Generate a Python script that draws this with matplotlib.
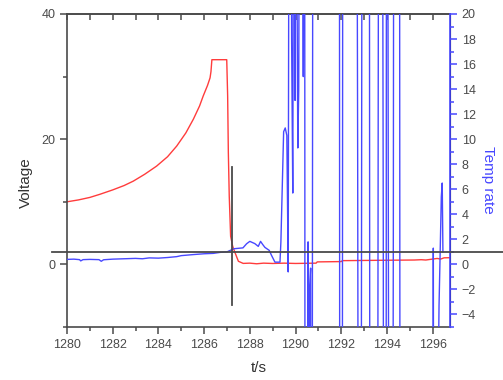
import numpy as np
import matplotlib
matplotlib.use('Agg')
import matplotlib.pyplot as plt
from matplotlib.ticker import MultipleLocator

plt.rcParams['font.family'] = ['Liberation Sans', 'DejaVu Sans']

# Voltage (left axis)
red_t = [1280.0, 1280.5, 1281.0, 1281.44, 1282.0, 1282.5, 1282.9, 1283.4, 1283.92,
         1284.4, 1284.8, 1285.2, 1285.53, 1285.8, 1285.96, 1286.15, 1286.26, 1286.3,
         1286.34, 1286.99, 1287.03, 1287.06, 1287.1, 1287.16, 1287.25, 1287.35, 1287.5,
         1287.71, 1288.0, 1288.3, 1288.6, 1289.0, 1289.5, 1290.0, 1290.9, 1290.95,
         1292.0, 1292.05, 1293.5, 1295.2, 1295.5, 1295.7, 1296.0, 1296.2, 1296.35,
         1296.5, 1296.8]
red_v = [10.0, 10.3, 10.7, 11.2, 11.9, 12.6, 13.3, 14.4, 15.7,
         17.2, 18.9, 21.0, 23.2, 25.3, 26.9, 28.6, 29.8, 30.8,
         32.7, 32.7, 26.9, 17.9, 10.9, 4.5, 2.9, 1.9, 0.5,
         0.16, 0.2, 0.1, 0.2, 0.15, 0.2, 0.15, 0.2, 0.4,
         0.45, 0.6, 0.65, 0.7, 0.75, 0.7, 0.85, 0.95, 0.85,
         1.05, 1.07]

# Temp rate (right axis); values beyond the axis range are clipped
blue_t = [1280.0, 1280.3, 1280.55, 1280.6, 1280.7, 1281.0, 1281.4, 1281.5, 1281.6,
          1282.0, 1282.5, 1283.0, 1283.3, 1283.6, 1284.0, 1284.4, 1284.8, 1285.0,
          1285.5, 1286.0, 1286.4, 1286.7, 1287.0, 1287.3, 1287.7, 1287.86, 1288.0,
          1288.22, 1288.37, 1288.47, 1288.56, 1288.66, 1288.85, 1288.95, 1289.1, 1289.32,
          1289.36, 1289.42, 1289.48, 1289.55, 1289.62, 1289.66, 1289.68, 1289.72, 1289.80,
          1289.83, 1289.86, 1289.88, 1289.92, 1289.98, 1290.02, 1290.10, 1290.14, 1290.18,
          1290.30, 1290.34, 1290.37, 1290.40, 1290.42, 1290.52, 1290.55, 1290.58, 1290.62,
          1290.66, 1290.68, 1290.72, 1290.76, 1291.92, 1291.94, 1292.04, 1292.07, 1292.68,
          1292.72, 1292.76, 1292.86, 1292.90, 1292.92, 1293.23, 1293.26, 1293.58, 1293.62,
          1293.64, 1293.80, 1293.84, 1293.86, 1293.96, 1293.98, 1294.03, 1294.06, 1294.10,
          1294.24, 1294.28, 1294.30, 1294.55, 1294.58, 1296.0, 1296.03, 1296.06, 1296.28,
          1296.33, 1296.38, 1296.42, 1296.45]
blue_v = [0.40, 0.42, 0.38, 0.28, 0.38, 0.40, 0.38, 0.25, 0.37,
          0.42, 0.45, 0.48, 0.45, 0.52, 0.50, 0.55, 0.62, 0.70,
          0.78, 0.85, 0.88, 0.96, 1.0, 1.25, 1.32, 1.65, 1.84,
          1.66, 1.44, 1.84, 1.6, 1.36, 1.12, 0.72, 0.18, 0.18,
          1.8, 6.2, 10.6, 10.9, 10.3, 3.0, -0.6, 40, 40,
          17.9, 10.5, 5.7, 40, 13.1, 40, 9.3, 13.9, 40,
          40, 15.0, 40, 40, -40, -40, 1.8, -40, -1.8,
          -0.3, -40, -40, 40, 40, -40, -40, 40, 40,
          8.2, -40, -40, 18.8, 40, 40, -40, -40, 14.9,
          40, 40, 3.0, -40, -40, 40, 40, 5.1, -40,
          -40, 2.5, 40, 40, -40, -40, 1.3, -40, -3.3,
          1.0, 5.4, 6.5, 1.0]

cursor_t = 1287.22
cursor_rate = 1.0

gray = '#4a4a4a'
red = '#ff3c3c'
blue = '#4848ff'

fig = plt.figure(figsize=(5.03, 3.80), dpi=100)
ax = fig.add_axes([67 / 503, 53 / 380, 383 / 503, 313 / 380])
ax2 = ax.twinx()

ax.plot(red_t, red_v, color=red, lw=1.0)
ax2.plot(blue_t, blue_v, color=blue, lw=1.0)

# cursor cross
ax2.axhline(cursor_rate, xmin=-0.04, xmax=1.14, color=gray, lw=1.3, clip_on=False, zorder=5)
ax2.axvline(cursor_t, ymin=0.07, ymax=0.51, color=gray, lw=1.3, zorder=5)

ax.set_xlim(1280, 1296.76)
ax.set_ylim(-10, 40)
ax2.set_ylim(-5, 20)

ax.xaxis.set_major_locator(MultipleLocator(2))
ax.xaxis.set_minor_locator(MultipleLocator(1))
ax.yaxis.set_major_locator(MultipleLocator(20))
ax.yaxis.set_minor_locator(MultipleLocator(10))
ax2.yaxis.set_major_locator(MultipleLocator(2))
ax2.yaxis.set_minor_locator(MultipleLocator(1))

for s in ['left', 'bottom', 'top']:
    ax.spines[s].set_color(gray)
    ax.spines[s].set_linewidth(1.2)
ax2.spines['right'].set_color(blue)
ax2.spines['right'].set_linewidth(1.2)
for s in ['left', 'bottom', 'top']:
    ax2.spines[s].set_visible(False)

ax.tick_params(axis='both', which='major', direction='out', length=5, width=1.1,
               color=gray, labelcolor=gray, labelsize=9)
ax.tick_params(axis='both', which='minor', direction='out', length=3, width=1.1, color=gray)
ax2.tick_params(axis='y', which='major', direction='out', length=5, width=1.1,
                color=blue, labelcolor=gray, labelsize=9)
ax2.tick_params(axis='y', which='minor', direction='out', length=3, width=1.1, color=blue)

top = ax.secondary_xaxis('top')
top.xaxis.set_major_locator(MultipleLocator(1))
top.tick_params(direction='in', length=4, width=1.1, color=gray, labeltop=False)
top.spines['top'].set_color(gray)
top.spines['top'].set_linewidth(1.2)

ax.set_xlabel('t/s', fontsize=11, color='#333333')
ax.set_ylabel('Voltage', fontsize=11, color='#333333')
ax2.set_ylabel('Temp rate', fontsize=11, color=blue, rotation=270)
ax.xaxis.set_label_coords(0.5, -0.108)
ax.yaxis.set_label_coords(-0.09, 0.46)
ax2.yaxis.set_label_coords(1.118, 0.47)

fig.savefig('out.png', dpi=100)
